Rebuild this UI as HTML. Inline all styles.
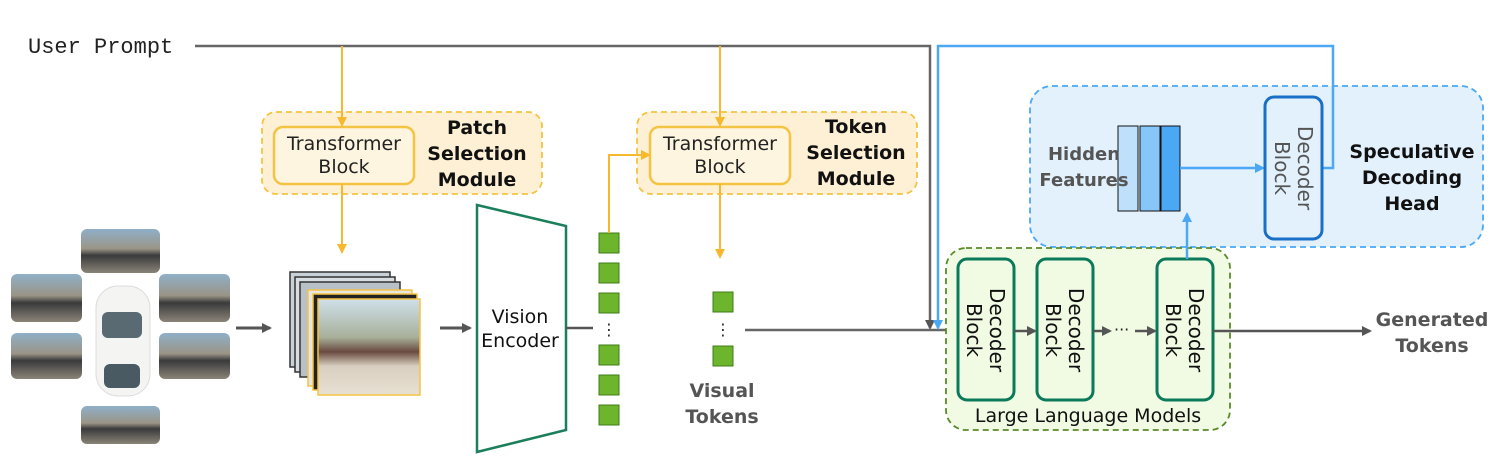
<!DOCTYPE html>
<html><head><meta charset="utf-8"><style>
html,body{margin:0;padding:0;background:#fff;}
svg{display:block;}
text{font-family:"DejaVu Sans","Liberation Sans",sans-serif;}
</style></head><body>
<svg width="1505" height="464" viewBox="0 0 1505 464" xmlns="http://www.w3.org/2000/svg">
<defs>
<marker id="ag" markerWidth="10" markerHeight="10" refX="8" refY="5" orient="auto" markerUnits="userSpaceOnUse"><path d="M0,0 L10,5 L0,10 z" fill="#555"/></marker>
<marker id="ay" markerWidth="10" markerHeight="10" refX="8" refY="5" orient="auto" markerUnits="userSpaceOnUse"><path d="M0,0 L10,5 L0,10 z" fill="#f5b82e"/></marker>
<marker id="ab" markerWidth="10" markerHeight="10" refX="8" refY="5" orient="auto" markerUnits="userSpaceOnUse"><path d="M0,0 L10,5 L0,10 z" fill="#4aa8f5"/></marker>
<linearGradient id="img" x1="0" y1="0" x2="0" y2="1"><stop offset="0" stop-color="#8fb0c8"/><stop offset="0.45" stop-color="#9a9486"/><stop offset="0.6" stop-color="#3a3a3c"/><stop offset="1" stop-color="#8a8478"/></linearGradient>
<linearGradient id="img2" x1="0" y1="0" x2="0" y2="1"><stop offset="0" stop-color="#cfe0ea"/><stop offset="0.4" stop-color="#a8b09a"/><stop offset="0.55" stop-color="#6a4a40"/><stop offset="0.7" stop-color="#d8cfc0"/><stop offset="1" stop-color="#e8e0d2"/></linearGradient>
</defs>

<!-- User prompt -->
<text x="28" y="53" font-size="22" fill="#222" style="font-family:'Liberation Mono',monospace">User Prompt</text>
<polyline points="195,46 930,46 930,328" fill="none" stroke="#666" stroke-width="2.5" marker-end="url(#ag)"/>

<!-- Patch Selection -->
<rect x="262" y="112" width="280" height="82" rx="14" fill="#fdf0d5" stroke="#f5c342" stroke-width="1.8" stroke-dasharray="6,4"/>
<rect x="274" y="127" width="140" height="57" rx="9" fill="#fef5e0" stroke="#f5c342" stroke-width="2.5"/>
<line x1="342" y1="46" x2="342" y2="125" stroke="#f5b82e" stroke-width="2" marker-end="url(#ay)"/>
<text x="344" y="150" font-size="19" text-anchor="middle" fill="#222">Transformer</text>
<text x="344" y="173" font-size="19" text-anchor="middle" fill="#222">Block</text>
<text x="477" y="134" font-size="19" font-weight="bold" text-anchor="middle" fill="#111">Patch</text>
<text x="477" y="160" font-size="19" font-weight="bold" text-anchor="middle" fill="#111">Selection</text>
<text x="477" y="186" font-size="19" font-weight="bold" text-anchor="middle" fill="#111">Module</text>
<line x1="342" y1="184" x2="342" y2="252" stroke="#f5b82e" stroke-width="2" marker-end="url(#ay)"/>

<!-- camera images -->
<rect x="81" y="229" width="79" height="44" rx="6" fill="url(#img)"/>
<rect x="11" y="274" width="71" height="48" rx="6" fill="url(#img)"/>
<rect x="159" y="274" width="71" height="48" rx="6" fill="url(#img)"/>
<rect x="11" y="333" width="71" height="46" rx="6" fill="url(#img)"/>
<rect x="159" y="333" width="71" height="46" rx="6" fill="url(#img)"/>
<rect x="81" y="406" width="79" height="38" rx="6" fill="url(#img)"/>
<rect x="96" y="286" width="54" height="110" rx="22" fill="#f4f4f2" stroke="#ddd"/>
<rect x="102" y="312" width="40" height="26" rx="6" fill="#5a6a72"/>
<rect x="104" y="364" width="36" height="24" rx="6" fill="#4a5a62"/>
<line x1="236" y1="328" x2="270" y2="328" stroke="#555" stroke-width="3" marker-end="url(#ag)"/>

<!-- stack -->
<rect x="290" y="272" width="100" height="95" fill="#c8d0d8" stroke="#333" stroke-width="1.5"/>
<rect x="295" y="277" width="100" height="95" fill="#d8dde2" stroke="#333" stroke-width="1.5"/>
<rect x="300" y="282" width="100" height="95" fill="#b8c0c8" stroke="#333" stroke-width="1.5"/>
<rect x="308" y="290" width="104" height="96" fill="#e8e6e0" stroke="#f5c342" stroke-width="1.5"/>
<rect x="313" y="294" width="104" height="96" fill="#222" stroke="#f5c342" stroke-width="1.5"/>
<rect x="318" y="299" width="102" height="96" fill="url(#img2)" stroke="#f5c342" stroke-width="1.5"/>
<line x1="440" y1="328" x2="470" y2="328" stroke="#555" stroke-width="3" marker-end="url(#ag)"/>

<!-- Vision encoder -->
<polygon points="477,205 566,226 566,430 477,452" fill="#fff" stroke="#1a7f5a" stroke-width="2.5"/>
<text x="520" y="323" font-size="19" text-anchor="middle" fill="#111">Vision</text>
<text x="520" y="347" font-size="19" text-anchor="middle" fill="#111">Encoder</text>
<line x1="566" y1="328" x2="593" y2="328" stroke="#555" stroke-width="2.5"/>

<!-- tokens -->
<g fill="#6cb52d" stroke="#3f7d18" stroke-width="1">
<rect x="599" y="233" width="20" height="20"/><rect x="599" y="263" width="20" height="20"/><rect x="599" y="293" width="20" height="20"/>
<rect x="599" y="345" width="20" height="20"/><rect x="599" y="375" width="20" height="20"/><rect x="599" y="405" width="20" height="20"/>
<rect x="713" y="292" width="20" height="20"/><rect x="713" y="346" width="20" height="20"/>
</g>
<text x="609" y="335" font-size="16" text-anchor="middle" fill="#222">⋮</text>
<text x="723" y="335" font-size="16" text-anchor="middle" fill="#222">⋮</text>

<!-- Token Selection -->
<rect x="637" y="112" width="280" height="82" rx="14" fill="#fdf0d5" stroke="#f5c342" stroke-width="1.8" stroke-dasharray="6,4"/>
<rect x="650" y="127" width="140" height="57" rx="9" fill="#fef5e0" stroke="#f5c342" stroke-width="2.5"/>
<polyline points="609,233 609,155 649,155" fill="none" stroke="#f5b82e" stroke-width="2" marker-end="url(#ay)"/>
<line x1="720" y1="46" x2="720" y2="125" stroke="#f5b82e" stroke-width="2" marker-end="url(#ay)"/>
<text x="720" y="150" font-size="19" text-anchor="middle" fill="#222">Transformer</text>
<text x="720" y="173" font-size="19" text-anchor="middle" fill="#222">Block</text>
<text x="856" y="133" font-size="19" font-weight="bold" text-anchor="middle" fill="#111">Token</text>
<text x="856" y="159" font-size="19" font-weight="bold" text-anchor="middle" fill="#111">Selection</text>
<text x="856" y="185" font-size="19" font-weight="bold" text-anchor="middle" fill="#111">Module</text>
<line x1="720" y1="184" x2="720" y2="257" stroke="#f5b82e" stroke-width="2" marker-end="url(#ay)"/>
<text x="722" y="397" font-size="19" font-weight="bold" text-anchor="middle" fill="#555">Visual</text>
<text x="722" y="423" font-size="19" font-weight="bold" text-anchor="middle" fill="#555">Tokens</text>
<line x1="745" y1="330" x2="955" y2="330" stroke="#666" stroke-width="2.5" marker-end="url(#ag)"/>

<!-- Speculative head box -->
<rect x="1030" y="86" width="453" height="161" rx="22" fill="#e3f1fd" stroke="#4aa8f5" stroke-width="1.8" stroke-dasharray="6,4"/>
<!-- LLM box -->
<rect x="946" y="248" width="284" height="182" rx="20" fill="#f1fbe3" stroke="#5a8a2a" stroke-width="1.8" stroke-dasharray="6,4"/>

<!-- blue feedback -->
<polyline points="1322,168 1333,168 1333,46 938,46 938,328" fill="none" stroke="#4aa8f5" stroke-width="2.5" marker-end="url(#ab)"/>

<!-- decoder blocks -->
<g fill="#f1fbe3" stroke="#0a7a5a" stroke-width="3">
<rect x="958" y="259" width="56" height="141" rx="9"/>
<rect x="1037" y="259" width="56" height="141" rx="9"/>
<rect x="1157" y="259" width="56" height="141" rx="9"/>
</g>
<g font-size="20" fill="#111" text-anchor="middle">
<text transform="translate(986,330) rotate(90)"><tspan x="0" y="-4">Decoder</tspan><tspan x="0" y="19">Block</tspan></text>
<text transform="translate(1065,330) rotate(90)"><tspan x="0" y="-4">Decoder</tspan><tspan x="0" y="19">Block</tspan></text>
<text transform="translate(1185,330) rotate(90)"><tspan x="0" y="-4">Decoder</tspan><tspan x="0" y="19">Block</tspan></text>
</g>
<line x1="1014" y1="331" x2="1035" y2="331" stroke="#555" stroke-width="2.5" marker-end="url(#ag)"/>
<line x1="1093" y1="331" x2="1110" y2="331" stroke="#555" stroke-width="2.5" marker-end="url(#ag)"/>
<text x="1114" y="335" font-size="16" fill="#222">···</text>
<line x1="1135" y1="331" x2="1155" y2="331" stroke="#555" stroke-width="2.5" marker-end="url(#ag)"/>
<text x="1088" y="422" font-size="19" text-anchor="middle" fill="#111">Large Language Models</text>
<line x1="1213" y1="331" x2="1370" y2="331" stroke="#555" stroke-width="2.5" marker-end="url(#ag)"/>
<text x="1432" y="326" font-size="19" font-weight="bold" text-anchor="middle" fill="#555">Generated</text>
<text x="1432" y="352" font-size="19" font-weight="bold" text-anchor="middle" fill="#555">Tokens</text>

<!-- hidden features -->
<line x1="1187" y1="259" x2="1187" y2="214" stroke="#4aa8f5" stroke-width="2.5" marker-end="url(#ab)"/>
<rect x="1118" y="126" width="20" height="85" fill="#bee0fb" stroke="#111" stroke-width="1"/>
<rect x="1140" y="126" width="20" height="85" fill="#86c6f9" stroke="#111" stroke-width="1"/>
<rect x="1161" y="126" width="19" height="85" fill="#4aa8f5" stroke="#111" stroke-width="1"/>
<text x="1084" y="160" font-size="18" font-weight="bold" text-anchor="middle" fill="#555">Hidden</text>
<text x="1084" y="186" font-size="18" font-weight="bold" text-anchor="middle" fill="#555">Features</text>
<line x1="1180" y1="168" x2="1263" y2="168" stroke="#4aa8f5" stroke-width="2.5" marker-end="url(#ab)"/>
<rect x="1265" y="97" width="57" height="142" rx="9" fill="#e3f1fd" stroke="#1a6fc7" stroke-width="3"/>
<text transform="translate(1294,168) rotate(90)" font-size="20" fill="#555" text-anchor="middle"><tspan x="0" y="-4">Decoder</tspan><tspan x="0" y="19">Block</tspan></text>
<text x="1412" y="158" font-size="19" font-weight="bold" text-anchor="middle" fill="#111">Speculative</text>
<text x="1412" y="184" font-size="19" font-weight="bold" text-anchor="middle" fill="#111">Decoding</text>
<text x="1412" y="210" font-size="19" font-weight="bold" text-anchor="middle" fill="#111">Head</text>
</svg>
</body></html>
